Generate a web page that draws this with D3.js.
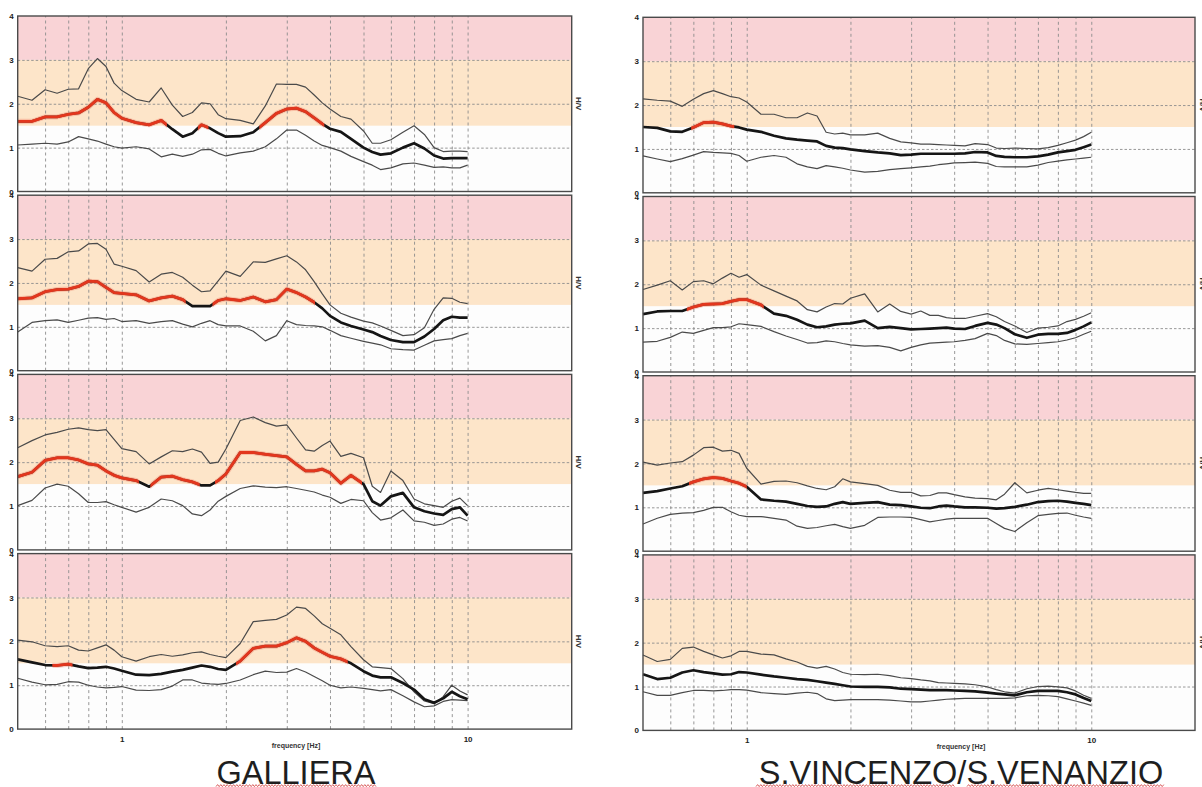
<!DOCTYPE html>
<html>
<head>
<meta charset="utf-8">
<script src="https://cdn.jsdelivr.net/npm/d3@7"></script>
<style>
  body { margin: 0; background: #ffffff; }
  svg { display: block; font-family: "Liberation Sans", Arial, sans-serif; }
</style>
</head>
<body>
<svg id="chart" width="1202" height="787"></svg>
<script>
// Frequency samples (Hz) shared by every H/V curve
const freqs = [0.5,0.55,0.6,0.65,0.7,0.75,0.8,0.85,0.9,0.95,
               1.0,1.1,1.2,1.3,1.4,1.5,1.6,1.7,1.8,1.9,
               2.0,2.2,2.4,2.6,2.8,3.0,3.2,3.4,3.6,3.8,
               4.0,4.3,4.6,5.0,5.3,5.6,
               6.0,6.5,7.0,7.5,8.0,8.5,9.0,9.5,10];

const yTicks = [0, 1, 2, 3, 4];
const xGridTicks = [0.6, 0.7, 0.8, 0.9, 1, 2, 3, 4, 5, 6, 7, 8, 9, 10];
const xTickLabels = [1, 10];
const hGridTicks = [1, 2, 3];
const bandLimits = [1.5, 3, 4];   // amplification classes: 1.5-3 and 3-4
const siteNames = ["GALLIERA", "S.VINCENZO/S.VENANZIO"];

// GALLIERA, station 1
const gal1Upper = [2.17,2.08,2.32,2.24,2.33,2.34,2.80,3.03,2.85,2.47, 2.30,2.10,2.04,2.36,1.97,1.71,1.80,2.02,2.00,1.75, 1.66,1.62,1.54,1.95,2.45,2.44,2.44,2.38,2.20,2.02, 1.88,1.71,1.65,1.38,1.10,1.10, 1.18,1.35,1.50,1.30,1.00,0.91,0.92,0.92,0.91];
const gal1Mean  = [1.60,1.60,1.70,1.70,1.76,1.79,1.92,2.10,2.02,1.80, 1.67,1.57,1.52,1.62,1.42,1.25,1.33,1.52,1.44,1.33, 1.25,1.26,1.35,1.57,1.78,1.88,1.90,1.82,1.68,1.54, 1.43,1.36,1.20,1.00,0.90,0.84, 0.87,1.00,1.10,0.98,0.82,0.75,0.76,0.76,0.76];
const gal1Lower = [1.06,1.08,1.10,1.08,1.13,1.25,1.20,1.15,1.08,1.02, 0.99,1.02,0.97,0.79,0.85,0.80,0.85,0.95,0.96,0.87, 0.81,0.88,0.92,1.02,1.20,1.40,1.40,1.28,1.15,1.05, 1.00,0.92,0.80,0.68,0.60,0.50, 0.54,0.63,0.65,0.60,0.55,0.56,0.54,0.54,0.60];
const gal1Peaks = [[0.5, 1.35], [1.66, 1.78], [2.5, 3.85]];

// GALLIERA, station 2
const gal2Upper = [2.35,2.27,2.54,2.56,2.71,2.73,2.89,2.90,2.77,2.43, 2.38,2.28,2.02,2.20,2.24,2.13,1.95,1.80,1.82,2.05, 2.27,2.15,2.48,2.47,2.55,2.62,2.48,2.30,2.03,1.75, 1.50,1.31,1.22,1.13,1.09,1.02, 0.92,0.80,0.82,0.98,1.40,1.66,1.65,1.56,1.53];
const gal2Mean  = [1.64,1.66,1.80,1.85,1.86,1.92,2.04,2.03,1.90,1.78, 1.76,1.73,1.59,1.66,1.70,1.62,1.47,1.47,1.47,1.60, 1.64,1.60,1.68,1.57,1.62,1.86,1.78,1.68,1.56,1.42, 1.25,1.10,1.02,0.94,0.88,0.79, 0.70,0.65,0.65,0.78,0.95,1.15,1.23,1.21,1.21];
const gal2Lower = [0.88,1.10,1.14,1.16,1.10,1.15,1.20,1.21,1.17,1.19, 1.12,1.14,1.08,1.12,1.14,1.06,1.00,1.08,1.14,1.05, 1.02,1.02,0.90,0.68,0.80,1.14,1.05,1.03,1.02,1.00, 0.92,0.80,0.74,0.67,0.63,0.59, 0.50,0.48,0.47,0.58,0.68,0.71,0.73,0.80,0.85];
const gal2Peaks = [[0.5, 1.53], [1.83, 3.62]];

// GALLIERA, station 3
const gal3Upper = [2.33,2.49,2.62,2.68,2.75,2.78,2.74,2.72,2.74,2.52, 2.31,2.24,1.96,2.12,2.26,2.24,2.30,2.23,1.97,2.00, 2.30,2.95,3.03,2.90,2.82,2.85,2.55,2.28,2.25,2.38, 2.48,2.13,2.20,2.10,1.45,1.31, 1.80,1.58,1.16,1.05,1.01,0.97,1.11,1.18,1.01];
const gal3Mean  = [1.67,1.77,2.04,2.10,2.10,2.05,1.96,1.93,1.80,1.70, 1.64,1.58,1.44,1.66,1.68,1.60,1.55,1.47,1.47,1.58, 1.73,2.22,2.22,2.18,2.15,2.12,1.95,1.80,1.80,1.84, 1.76,1.52,1.70,1.50,1.11,1.01, 1.22,1.30,0.97,0.88,0.83,0.80,0.93,0.97,0.78];
const gal3Lower = [1.01,1.13,1.41,1.50,1.45,1.28,1.08,1.08,1.10,1.03, 0.97,0.86,0.97,1.16,1.12,1.01,0.82,0.78,0.91,1.11, 1.22,1.40,1.46,1.43,1.42,1.44,1.40,1.36,1.32,1.25, 1.20,1.06,1.15,1.12,0.85,0.68, 0.73,0.91,0.66,0.63,0.56,0.59,0.70,0.74,0.66];
const gal3Peaks = [[0.5, 1.12], [1.21, 1.68], [1.86, 4.95]];

// GALLIERA, station 4
const gal4Upper = [2.03,1.99,1.90,1.88,1.90,1.80,1.78,1.85,1.92,1.80, 1.65,1.55,1.65,1.70,1.66,1.69,1.74,1.76,1.70,1.66, 1.63,1.95,2.45,2.48,2.50,2.60,2.78,2.75,2.58,2.40, 2.30,2.15,1.88,1.58,1.42,1.40, 1.38,1.15,0.85,0.64,0.58,0.74,1.00,0.87,0.78];
const gal4Mean  = [1.59,1.52,1.46,1.45,1.48,1.43,1.39,1.40,1.42,1.38, 1.33,1.24,1.23,1.26,1.31,1.35,1.40,1.45,1.42,1.37, 1.35,1.55,1.84,1.89,1.89,1.97,2.08,2.00,1.85,1.75, 1.66,1.60,1.50,1.32,1.22,1.18, 1.18,1.05,0.90,0.68,0.60,0.70,0.85,0.75,0.68];
const gal4Lower = [1.16,1.07,1.01,1.02,1.08,1.07,1.00,0.96,0.94,0.95, 0.97,0.89,0.88,0.90,0.98,1.12,1.12,1.05,1.03,1.02, 1.04,1.12,1.24,1.32,1.29,1.30,1.38,1.30,1.20,1.10, 1.00,0.94,0.96,0.93,0.90,0.87, 0.90,0.76,0.62,0.51,0.53,0.63,0.67,0.66,0.65];
const gal4Peaks = [[0.63, 0.72], [2.14, 4.5]];

// S.VINCENZO/S.VENANZIO, station 1
const ven1Upper = [2.14,2.11,2.09,1.97,2.13,2.26,2.33,2.26,2.19,2.16, 2.07,1.79,1.79,1.71,1.71,1.82,1.75,1.38,1.34,1.36, 1.32,1.32,1.36,1.24,1.16,1.14,1.11,1.11,1.10,1.09, 1.08,1.07,1.12,1.10,1.02,1.01, 1.02,1.01,1.00,1.03,1.08,1.14,1.20,1.28,1.38];
const ven1Mean  = [1.50,1.48,1.40,1.39,1.49,1.60,1.61,1.57,1.52,1.49, 1.44,1.39,1.30,1.24,1.21,1.19,1.17,1.07,1.03,1.02, 0.99,0.95,0.92,0.90,0.86,0.87,0.89,0.89,0.89,0.89, 0.89,0.90,0.93,0.92,0.84,0.82, 0.81,0.81,0.83,0.87,0.92,0.95,0.98,1.04,1.10];
const ven1Lower = [0.84,0.77,0.71,0.78,0.86,0.94,0.92,0.91,0.90,0.85, 0.72,0.81,0.85,0.81,0.66,0.59,0.55,0.62,0.59,0.56, 0.52,0.47,0.49,0.53,0.55,0.57,0.59,0.61,0.64,0.66, 0.68,0.69,0.70,0.67,0.60,0.59, 0.59,0.59,0.63,0.69,0.72,0.75,0.77,0.79,0.81];
const ven1Peaks = [[0.69, 0.92]];

// S.VINCENZO/S.VENANZIO, station 2
const ven2Upper = [1.88,1.98,2.08,1.87,2.06,2.08,2.01,2.14,2.25,2.16, 2.22,1.98,1.85,1.73,1.62,1.42,1.37,1.48,1.56,1.55, 1.68,1.78,1.37,1.55,1.38,1.32,1.39,1.29,1.29,1.24, 1.22,1.22,1.27,1.33,1.26,1.15, 1.05,0.90,1.00,1.02,1.05,1.15,1.20,1.27,1.35];
const ven2Mean  = [1.32,1.38,1.39,1.39,1.48,1.54,1.55,1.56,1.61,1.65, 1.65,1.53,1.33,1.28,1.19,1.08,1.02,1.04,1.08,1.10, 1.11,1.17,1.00,1.03,1.00,0.97,0.98,0.99,1.00,1.01, 0.99,0.98,1.05,1.12,1.08,1.00, 0.86,0.78,0.85,0.87,0.87,0.89,0.96,1.04,1.13];
const ven2Lower = [0.68,0.70,0.79,0.91,0.88,0.95,1.01,1.01,1.03,1.10, 1.08,1.04,0.92,0.82,0.74,0.66,0.67,0.71,0.69,0.65, 0.62,0.59,0.60,0.56,0.48,0.56,0.62,0.66,0.67,0.68, 0.69,0.72,0.76,0.88,0.83,0.72, 0.64,0.63,0.65,0.67,0.69,0.73,0.78,0.86,0.93];
const ven2Peaks = [[0.67, 1.12]];

// S.VINCENZO/S.VENANZIO, station 3
const ven3Upper = [2.03,1.96,2.01,2.04,2.19,2.36,2.37,2.28,2.30,2.23, 1.89,1.53,1.59,1.60,1.56,1.49,1.43,1.40,1.47,1.65, 1.58,1.54,1.50,1.39,1.34,1.34,1.26,1.27,1.33,1.33, 1.29,1.24,1.21,1.20,1.17,1.30, 1.56,1.33,1.39,1.43,1.40,1.37,1.34,1.32,1.32];
const ven3Mean  = [1.33,1.37,1.43,1.48,1.58,1.65,1.68,1.66,1.60,1.55, 1.47,1.18,1.15,1.13,1.08,1.03,1.01,1.02,1.08,1.12, 1.08,1.10,1.12,1.06,1.05,1.02,0.99,0.98,1.02,1.04, 1.02,1.00,1.00,0.99,0.97,0.98, 1.01,1.06,1.12,1.14,1.15,1.13,1.10,1.08,1.05];
const ven3Lower = [0.62,0.75,0.84,0.87,0.88,0.93,1.00,1.00,0.90,0.82, 0.79,0.79,0.75,0.71,0.57,0.52,0.54,0.58,0.61,0.56, 0.52,0.59,0.77,0.78,0.78,0.77,0.72,0.67,0.70,0.73, 0.75,0.75,0.75,0.75,0.63,0.52, 0.45,0.65,0.81,0.84,0.86,0.87,0.82,0.78,0.75];
const ven3Peaks = [[0.68, 1.0]];

// S.VINCENZO/S.VENANZIO, station 4
const ven4Upper = [1.72,1.57,1.62,1.87,1.90,1.80,1.72,1.65,1.70,1.80, 1.80,1.74,1.72,1.63,1.56,1.46,1.42,1.46,1.40,1.32, 1.28,1.27,1.28,1.25,1.20,1.18,1.15,1.13,1.09,1.08, 1.07,1.06,1.04,0.99,0.93,0.88, 0.85,0.95,1.00,1.01,0.99,0.97,0.90,0.80,0.73];
const ven4Mean  = [1.28,1.17,1.20,1.32,1.37,1.33,1.30,1.27,1.28,1.33, 1.32,1.27,1.23,1.20,1.17,1.15,1.12,1.09,1.06,1.03, 1.00,0.99,0.99,0.98,0.95,0.94,0.93,0.92,0.92,0.92, 0.91,0.90,0.89,0.86,0.84,0.82, 0.80,0.87,0.90,0.90,0.90,0.87,0.82,0.74,0.67];
const ven4Lower = [0.88,0.80,0.80,0.86,0.91,0.91,0.90,0.91,0.93,0.93, 0.92,0.86,0.84,0.82,0.85,0.87,0.84,0.72,0.68,0.69, 0.70,0.70,0.70,0.69,0.67,0.65,0.65,0.67,0.69,0.71, 0.72,0.73,0.73,0.73,0.73,0.73, 0.74,0.79,0.80,0.79,0.77,0.72,0.67,0.62,0.57];
const ven4Peaks = [];

// ---------------------------------------------------------------------------
const panels = [
  { col: 0, row: 0, upper: gal1Upper, mean: gal1Mean, lower: gal1Lower, peaks: gal1Peaks },
  { col: 0, row: 1, upper: gal2Upper, mean: gal2Mean, lower: gal2Lower, peaks: gal2Peaks },
  { col: 0, row: 2, upper: gal3Upper, mean: gal3Mean, lower: gal3Lower, peaks: gal3Peaks },
  { col: 0, row: 3, upper: gal4Upper, mean: gal4Mean, lower: gal4Lower, peaks: gal4Peaks },
  { col: 1, row: 0, upper: ven1Upper, mean: ven1Mean, lower: ven1Lower, peaks: ven1Peaks },
  { col: 1, row: 1, upper: ven2Upper, mean: ven2Mean, lower: ven2Lower, peaks: ven2Peaks },
  { col: 1, row: 2, upper: ven3Upper, mean: ven3Mean, lower: ven3Lower, peaks: ven3Peaks },
  { col: 1, row: 3, upper: ven4Upper, mean: ven4Mean, lower: ven4Lower, peaks: ven4Peaks }
];

const layout = [
  { x0: 17.7, x1: 571.7, top: 16.0, titleX: 296, squiggles: [[216, 376]] },
  { x0: 643.0, x1: 1195.0, top: 17.3, titleX: 961, squiggles: [[756, 955], [967, 1164]] }
];
const rowStep = 179.2;
const plotH = 175.5;
const bandColors = ["#fde5c9", "#f9d3d6"];

const svg = d3.select("#chart");
const defs = svg.append("defs");

panels.forEach((p, i) => {
  const L = layout[p.col];
  const top = L.top + p.row * rowStep;
  const x = d3.scaleLog().domain([0.5, 20]).range([L.x0, L.x1]);
  const y = d3.scaleLinear().domain([0, 4]).range([top + plotH, top]);
  const w = L.x1 - L.x0;
  const g = svg.append("g");

  // background and amplification bands
  g.append("rect").attr("x", L.x0).attr("y", y(4)).attr("width", w)
    .attr("height", y(0) - y(4)).attr("fill", "#fdfdfd");
  for (let b = 0; b < bandLimits.length - 1; b++) {
    g.append("rect")
      .attr("x", L.x0).attr("width", w)
      .attr("y", y(bandLimits[b + 1]))
      .attr("height", y(bandLimits[b]) - y(bandLimits[b + 1]))
      .attr("fill", bandColors[b]);
  }

  // dashed frequency grid
  const vg = g.append("g").attr("transform", `translate(0,${y(0)})`)
    .call(d3.axisBottom(x).tickValues(xGridTicks).tickSize(-(y(0) - y(4))).tickFormat(""));
  vg.select(".domain").remove();
  vg.selectAll("line").attr("stroke", "#8c8c8c").attr("stroke-width", 0.9)
    .attr("stroke-dasharray", "3,3");

  // dashed amplitude grid
  const hg = g.append("g").attr("transform", `translate(${L.x0},0)`)
    .call(d3.axisLeft(y).tickValues(hGridTicks).tickSize(-w).tickFormat(""));
  hg.select(".domain").remove();
  hg.selectAll("line").attr("stroke", "#8c8c8c").attr("stroke-width", 0.9)
    .attr("stroke-dasharray", "2.5,2");

  const line = d3.line().x(d => x(d[0])).y(d => y(d[1]));
  const toPts = arr => freqs.map((f, k) => [f, arr[k]]);

  // standard deviation curves
  [p.upper, p.lower].forEach(arr => {
    g.append("path").datum(toPts(arr)).attr("d", line)
      .attr("fill", "none").attr("stroke", "#4a4a4a").attr("stroke-width", 1.2)
      .attr("stroke-linejoin", "round");
  });

  // mean H/V curve
  const meanPts = toPts(p.mean);
  g.append("path").datum(meanPts).attr("d", line)
    .attr("fill", "none").attr("stroke", "#151515").attr("stroke-width", 2.7)
    .attr("stroke-linejoin", "round");

  // highlighted peak ranges drawn in red
  if (p.peaks.length) {
    const cid = "peak-clip-" + i;
    const cp = defs.append("clipPath").attr("id", cid);
    p.peaks.forEach(r => {
      cp.append("rect").attr("x", x(r[0]) - (r[0] <= 0.5 ? 3 : 0)).attr("y", y(4))
        .attr("width", x(r[1]) - x(r[0]) + (r[0] <= 0.5 ? 3 : 0)).attr("height", y(0) - y(4));
    });
    const rg = g.append("g").attr("clip-path", `url(#${cid})`);
    rg.append("path").datum(meanPts).attr("d", line)
      .attr("fill", "none").attr("stroke", "#f2785e").attr("stroke-width", 5)
      .attr("stroke-opacity", 0.35).attr("stroke-linejoin", "round");
    rg.append("path").datum(meanPts).attr("d", line)
      .attr("fill", "none").attr("stroke", "#e3361d").attr("stroke-width", 2.8)
      .attr("stroke-linejoin", "round");
  }

  // frame
  g.append("rect").attr("x", L.x0).attr("y", y(4)).attr("width", w)
    .attr("height", y(0) - y(4)).attr("fill", "none")
    .attr("stroke", "#4a4a4a").attr("stroke-width", 1.4);

  // amplitude labels
  const ya = g.append("g").attr("transform", `translate(${L.x0},0)`)
    .call(d3.axisLeft(y).tickValues(yTicks).tickSize(0).tickPadding(4).tickFormat(d3.format("d")));
  ya.select(".domain").remove();
  ya.selectAll("text").attr("font-size", 8).attr("font-weight", "bold")
    .attr("fill", "#222").attr("font-family", "Liberation Sans, Arial, sans-serif");

  // H/V axis name on the right side
  g.append("text")
    .attr("transform", `translate(${L.x1 + 7},${(y(0) + y(4)) / 2}) rotate(90)`)
    .attr("text-anchor", "middle").attr("dominant-baseline", "central")
    .attr("font-size", 8).attr("font-weight", "bold").attr("fill", "#333")
    .text("H/V");

  // frequency labels under the last panel of each column
  if (p.row === 3) {
    const xa = g.append("g").attr("transform", `translate(0,${y(0)})`)
      .call(d3.axisBottom(x).tickValues(xTickLabels).tickSize(0).tickPadding(7).tickFormat(d3.format("d")));
    xa.select(".domain").remove();
    xa.selectAll("text").attr("font-size", 8).attr("font-weight", "bold")
      .attr("fill", "#222").attr("font-family", "Liberation Sans, Arial, sans-serif");
    g.append("text").attr("x", L.titleX).attr("y", y(0) + 19)
      .attr("text-anchor", "middle").attr("font-size", 7).attr("font-weight", "bold")
      .attr("fill", "#333").text("frequency [Hz]");
  }
});

// site names with their wavy underlines
layout.forEach((L, c) => {
  svg.append("text").attr("x", L.titleX).attr("y", 783.5)
    .attr("text-anchor", "middle").attr("font-size", 32.5)
    .attr("fill", "#1e1e1e").text(siteNames[c]);
  L.squiggles.forEach(s => {
    const pts = d3.range(s[0], s[1] + 0.1, 1.6).map((px, k) => [px, k % 2 ? 784.6 : 786.6]);
    svg.append("path").attr("d", d3.line()(pts)).attr("fill", "none")
      .attr("stroke", "#cf3a3a").attr("stroke-width", 0.8);
  });
});
</script>
</body>
</html>
